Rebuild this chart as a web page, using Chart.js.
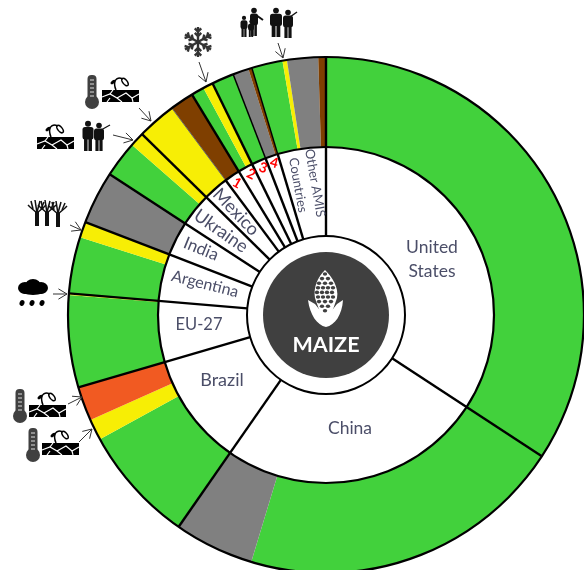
<!DOCTYPE html>
<html>
<head>
    <meta charset="UTF-8">
    <title>Maize</title>
    <script src="https://cdn.jsdelivr.net/npm/chart.js"></script>
    <style>
        html, body { margin: 0; padding: 0; background: #fff; overflow: hidden; width: 584px; height: 570px; }
        canvas { position: absolute; left: -24px; top: -35px; }
    </style>
</head>
<body>
<canvas id="grafico" width="700" height="700"></canvas>

<script>
    // share of world production, percent
    const countries = ["United States", "China", "Brazil", "EU-27", "Argentina", "India", "Ukraine", "Mexico", "1", "2", "3", "4", "Other AMIS Countries"];
    const countryShares = [34.22, 25.44, 10.8, 5.86, 4.53, 3.31, 3.19, 2.44, 1.5, 1.44, 1.39, 1.22, 4.64];

    // same production split by crop condition, in the same country order
    const conditionShares = [34.22, 20.45, 4.99, 7.33, 1.33, 2.14, 5.76, 0.1, 3.53, 1.0, 3.31, 2.28, 0.91, 2.44, 1.5, 0.81, 0.63, 1.39, 1.0, 0.22, 1.94, 0.28, 1.94, 0.48];
    const conditions = ["good", "good", "none", "good", "watch", "poor", "good", "watch", "good", "watch", "none", "good", "watch", "watch", "mixed", "good", "watch", "good", "none", "mixed", "good", "watch", "none", "mixed"];

    const palette = { good: "#42d13c", watch: "#f7ee05", poor: "#f15a22", mixed: "#7f3f00", none: "#808080" };

    const pageX = 24, pageY = 35; // canvas sits off the page so the ring can be clipped
    const textColor = "#4b4e68";

    function line(ctx, pts) {
        ctx.beginPath();
        pts.forEach((p, i) => i ? ctx.lineTo(p[0], p[1]) : ctx.moveTo(p[0], p[1]));
        ctx.stroke();
    }

    function arrow(ctx, x1, y1, x2, y2) {
        const a = Math.atan2(y2 - y1, x2 - x1), s = 10;
        ctx.strokeStyle = "#333";
        ctx.lineWidth = 1;
        line(ctx, [[x1, y1], [x2, y2]]);
        line(ctx, [[x2 + s * Math.cos(a + 2.6), y2 + s * Math.sin(a + 2.6)], [x2, y2], [x2 + s * Math.cos(a - 2.6), y2 + s * Math.sin(a - 2.6)]]);
    }

    function thermometer(ctx, x, y) {
        ctx.fillStyle = "#404040";
        ctx.beginPath();
        ctx.arc(x + 7, y + 27, 7, 0, Math.PI * 2);
        ctx.fill();
        ctx.beginPath();
        ctx.roundRect(x + 2.5, y, 9, 26, 4);
        ctx.fill();
        ctx.strokeStyle = "#ddd";
        ctx.lineWidth = 1;
        for (let i = 0; i < 5; i++) line(ctx, [[x + 5, y + 5 + i * 4], [x + 9, y + 5 + i * 4]]);
    }

    function soil(ctx, x, y) {
        ctx.fillStyle = "#000";
        ctx.fillRect(x, y + 13, 37, 12);
        ctx.strokeStyle = "#fff";
        ctx.lineWidth = 1.2;
        line(ctx, [[x, y + 20], [x + 8, y + 17], [x + 15, y + 21], [x + 20, y + 25]]);
        line(ctx, [[x + 15, y + 21], [x + 24, y + 16], [x + 30, y + 21], [x + 37, y + 17]]);
        line(ctx, [[x + 8, y + 17], [x + 11, y + 13]]);
        line(ctx, [[x + 30, y + 21], [x + 31, y + 25]]);
        line(ctx, [[x + 5, y + 25], [x + 8, y + 21]]);
        ctx.strokeStyle = "#000";
        ctx.lineWidth = 1.5;
        ctx.fillStyle = "#fff";
        ctx.beginPath();
        ctx.moveTo(x + 14, y + 13);
        ctx.bezierCurveTo(x + 11, y + 6, x + 13, y + 1, x + 18, y + 1);
        ctx.stroke();
        ctx.beginPath();
        ctx.ellipse(x + 23, y + 5, 4.5, 2.2, 0.9, 0, Math.PI * 2);
        ctx.fill();
        ctx.stroke();
        ctx.beginPath();
        ctx.moveTo(x + 18, y + 1);
        ctx.lineTo(x + 21, y + 2);
        ctx.stroke();
        ctx.fillStyle = "#000";
        ctx.beginPath();
        ctx.ellipse(x + 11, y + 5, 3, 1.5, -0.7, 0, Math.PI * 2);
        ctx.fill();
    }

    function person(ctx, x, y, h, w) {
        // x is the middle of the figure, y its top
        ctx.fillStyle = "#111";
        ctx.beginPath();
        ctx.arc(x, y + h * 0.09, h * 0.1, 0, Math.PI * 2);
        ctx.fill();
        ctx.beginPath();
        ctx.roundRect(x - w / 2, y + h * 0.2, w, h * 0.42, 2.5);
        ctx.fill();
        ctx.fillRect(x - w * 0.36, y + h * 0.55, w * 0.32, h * 0.45);
        ctx.fillRect(x + w * 0.04, y + h * 0.55, w * 0.32, h * 0.45);
    }

    function snowflake(ctx, x, y, r) {
        ctx.strokeStyle = "#333";
        ctx.lineWidth = 2.4;
        for (let i = 0; i < 6; i++) {
            const a = Math.PI / 2 + i * Math.PI / 3;
            const ux = Math.cos(a), uy = Math.sin(a);
            line(ctx, [[x, y], [x + ux * r, y + uy * r]]);
            [0.4, 0.7].forEach(f => {
                const bx = x + ux * r * f, by = y + uy * r * f;
                line(ctx, [[bx + r * 0.3 * Math.cos(a + 0.8), by + r * 0.3 * Math.sin(a + 0.8)], [bx, by], [bx + r * 0.3 * Math.cos(a - 0.8), by + r * 0.3 * Math.sin(a - 0.8)]]);
            });
        }
    }

    function tree(ctx, x, y) {
        ctx.strokeStyle = "#111";
        ctx.lineWidth = 4;
        line(ctx, [[x, y + 26], [x, y + 12]]);
        ctx.lineWidth = 1.5;
        line(ctx, [[x, y + 13], [x - 7, y + 7], [x - 9, y + 5]]);
        line(ctx, [[x, y + 13], [x + 7, y + 7], [x + 9, y + 5]]);
        line(ctx, [[x, y + 13], [x - 2, y]]);
        line(ctx, [[x, y + 12], [x + 3, y + 1]]);
        line(ctx, [[x - 4, y + 9], [x - 6, y + 1]]);
        line(ctx, [[x + 4, y + 9], [x + 7, y + 2]]);
    }

    function cloud(ctx, x, y) {
        ctx.fillStyle = "#000";
        [[7, 10, 7, 6], [15, 8, 8, 7], [23, 10, 7, 6], [15, 12, 13, 5]].forEach(e => {
            ctx.beginPath();
            ctx.ellipse(x + e[0], y + e[1], e[2], e[3], 0, 0, Math.PI * 2);
            ctx.fill();
        });
        [4, 14, 24].forEach(d => {
            ctx.beginPath();
            ctx.ellipse(x + d, y + 25, 2.4, 3, 0.4, 0, Math.PI * 2);
            ctx.fill();
        });
    }

    function maize(ctx) {
        ctx.fillStyle = "#fff";
        ctx.beginPath();
        ctx.moveTo(325, 270);
        ctx.bezierCurveTo(318, 277, 313, 287, 315, 298);
        ctx.lineTo(322, 318);
        ctx.lineTo(330, 318);
        ctx.lineTo(337, 298);
        ctx.bezierCurveTo(339, 287, 332, 277, 325, 270);
        ctx.fill();
        ctx.fillStyle = "#404040";
        const rows = [[325], [322, 328], [319, 325, 331], [318, 323, 328, 333], [317, 322, 327, 332], [318, 323, 328, 333], [319, 325, 331], [322, 328], [325]];
        rows.forEach((r, i) => r.forEach(cx => {
            ctx.beginPath();
            ctx.ellipse(cx, 274 + i * 4.6, 2.2, 1.8, 0, 0, Math.PI * 2);
            ctx.fill();
        }));
        ctx.fillStyle = "#fff";
        ctx.beginPath();
        ctx.moveTo(308, 300);
        ctx.lineTo(315, 304);
        ctx.lineTo(326, 318);
        ctx.lineTo(337, 304);
        ctx.lineTo(343, 300);
        ctx.bezierCurveTo(342, 315, 335, 325, 326, 327);
        ctx.bezierCurveTo(317, 325, 310, 315, 308, 300);
        ctx.fill();
    }

    function writeText(ctx, text, x, y, rot, size, color, weight) {
        ctx.save();
        ctx.translate(x, y);
        ctx.rotate(rot * Math.PI / 180);
        ctx.font = (weight || "normal") + " " + size + "px Lato, 'Open Sans', sans-serif";
        ctx.fillStyle = color;
        ctx.textAlign = "center";
        ctx.textBaseline = "middle";
        ctx.fillText(text, 0, 0);
        ctx.restore();
    }

    const ringDecor = {
        id: "ringDecor",
        afterDraw(chart) {
            const ctx = chart.ctx;
            const outer = chart.getDatasetMeta(0).data[0];
            const inner = chart.getDatasetMeta(1).data;
            const cx = outer.x, cy = outer.y;
            const holeR = inner[0].innerRadius;
            const midR = inner[0].outerRadius;
            const topR = outer.outerRadius;

            ctx.save();
            ctx.strokeStyle = "#000";
            ctx.lineCap = "butt";

            // country boundaries run through both rings
            inner.forEach((arc, i) => {
                const a = arc.endAngle;
                const ux = Math.cos(a), uy = Math.sin(a);
                ctx.lineWidth = 2.4;
                line(ctx, [[cx + ux * holeR, cy + uy * holeR], [cx + ux * midR, cy + uy * midR]]);
                ctx.lineWidth = (i === 7) ? 1 : (i === 10 || i === 11) ? 1.5 : 2.4;
                ctx.strokeStyle = (i === 7) ? "#666" : "#000";
                line(ctx, [[cx + ux * midR, cy + uy * midR], [cx + ux * topR, cy + uy * topR]]);
                ctx.strokeStyle = "#000";
            });

            ctx.lineWidth = 2.2;
            [topR, midR].forEach(r => {
                ctx.beginPath();
                ctx.arc(cx, cy, r, 0, Math.PI * 2);
                ctx.stroke();
            });

            ctx.lineWidth = 2;
            ctx.beginPath();
            ctx.arc(cx, cy, holeR, 0, Math.PI * 2);
            ctx.fillStyle = "#fff";
            ctx.fill();
            ctx.stroke();

            ctx.beginPath();
            ctx.arc(cx, cy, 63, 0, Math.PI * 2);
            ctx.fillStyle = "#404040";
            ctx.fill();

            // everything below is in page pixels
            ctx.translate(pageX, pageY);
            maize(ctx);
            writeText(ctx, "MAIZE", 326, 345, 0, 21.5, "#fff", "bold");

            writeText(ctx, "United", 432, 247, 0, 17.5, textColor);
            writeText(ctx, "States", 432, 271, 0, 17.5, textColor);
            writeText(ctx, "China", 350, 428, 0, 17.5, textColor);
            writeText(ctx, "Brazil", 222, 380, 0, 18, textColor);
            writeText(ctx, "EU-27", 199, 325, 0, 16.5, textColor);
            writeText(ctx, "Argentina", 205, 284, 14, 16, textColor);
            writeText(ctx, "India", 201, 249, 22, 17, textColor);
            writeText(ctx, "Ukraine", 221, 231, 35, 18, textColor);
            writeText(ctx, "Mexico", 236, 212, 46, 18, textColor);
            writeText(ctx, "Other AMIS", 315, 183, 80, 13, textColor);
            writeText(ctx, "Countries", 298, 185, 80, 13, textColor);
            writeText(ctx, "1", 237, 183, 30, 14, "#f00", "bold");
            writeText(ctx, "2", 251, 174, 25, 14, "#f00", "bold");
            writeText(ctx, "3", 263, 168, 20, 14, "#f00", "bold");
            writeText(ctx, "4", 274, 163, 15, 14, "#f00", "bold");

            snowflake(ctx, 198, 42, 15);
            arrow(ctx, 199, 62, 206, 82);

            // family and two men
            person(ctx, 244, 16, 21, 7);
            person(ctx, 254, 8, 28, 8);
            person(ctx, 251, 20, 17, 6);
            ctx.strokeStyle = "#111";
            ctx.lineWidth = 2;
            line(ctx, [[256, 15], [263, 20]]);
            person(ctx, 276, 8, 29, 12);
            person(ctx, 288, 10, 28, 10);
            ctx.lineWidth = 1.5;
            line(ctx, [[290, 17], [297, 12]]);
            arrow(ctx, 278, 43, 283, 58);

            thermometer(ctx, 85, 75);
            soil(ctx, 102, 77);
            arrow(ctx, 139, 108, 151, 121);

            soil(ctx, 37, 124);
            person(ctx, 88, 121, 30, 11);
            person(ctx, 99, 123, 28, 10);
            ctx.strokeStyle = "#111";
            ctx.lineWidth = 1.2;
            line(ctx, [[101, 130], [110, 125]]);
            arrow(ctx, 113, 135, 133, 140);

            tree(ctx, 37, 200);
            tree(ctx, 47, 200);
            tree(ctx, 58, 201);
            arrow(ctx, 70, 225, 81, 230);

            cloud(ctx, 18, 278);
            arrow(ctx, 53, 294, 67, 294);

            thermometer(ctx, 13, 389);
            soil(ctx, 29, 392);
            arrow(ctx, 68, 404, 82, 397);

            thermometer(ctx, 26, 428);
            soil(ctx, 42, 430);
            arrow(ctx, 79, 442, 92, 429);

            ctx.restore();
        }
    };

    new Chart(document.getElementById("grafico"), {
        type: 'doughnut',
        data: {
            labels: conditions,
            datasets: [{
                data: conditionShares,
                backgroundColor: conditions.map(c => palette[c]),
                borderWidth: 0,
                weight: 90
            }, {
                data: countryShares,
                backgroundColor: "#fff",
                borderWidth: 0,
                weight: 89
            }]
        },
        options: {
            responsive: false,
            animation: false,
            cutout: 79,
            layout: { padding: 92 },
            plugins: {
                legend: { display: false },
                tooltip: { enabled: false }
            }
        },
        plugins: [ringDecor]
    });
</script>
</body>
</html>
